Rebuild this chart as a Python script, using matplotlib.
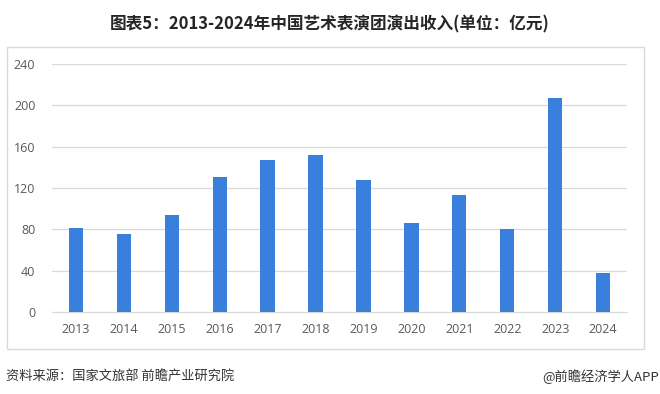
import matplotlib.pyplot as plt
from matplotlib.patches import Rectangle

plt.rcParams['font.family'] = ['Noto Sans CJK SC', 'DejaVu Sans']

# 中国艺术表演团演出收入 (亿元)
years = ['2013', '2014', '2015', '2016', '2017', '2018',
         '2019', '2020', '2021', '2022', '2023', '2024']
income = [81.5, 75.9, 94.2, 130.9, 147.5, 152.3,
          128.0, 86.5, 112.8, 80.8, 207.5, 38.2]
yticks = [0, 40, 80, 120, 160, 200, 240]

title = '图表5：2013-2024年中国艺术表演团演出收入(单位：亿元)'
source = '资料来源：国家文旅部 前瞻产业研究院'
credit = '@前瞻经济学人APP'

W, H = 660, 394
fig = plt.figure(figsize=(W / 100, H / 100), dpi=100)

# light grey frame around the plot
fig.patches.append(Rectangle((7 / W, 1 - 349 / H), 637 / W, 302 / H,
                             transform=fig.transFigure, fill=False,
                             edgecolor='#d9d9d9', linewidth=1))

ax = fig.add_axes([52 / W, 1 - 312 / H, 575 / W, 248 / H])
x = range(len(years))
ax.bar(x, income, width=0.3, color='#3a7fdc', zorder=3)

ax.set_xlim(-0.5, len(years) - 0.5)
ax.set_ylim(0, 240)
ax.set_yticks(yticks)
ax.set_xticks(list(x))
ax.set_xticklabels(years)
ax.grid(axis='y', color='#d9d9d9', linewidth=0.9, zorder=0)
for s in ['top', 'right', 'left']:
    ax.spines[s].set_visible(False)
ax.spines['bottom'].set_color('#d9d9d9')
ax.tick_params(length=0, labelsize=9, colors='#595959')
ax.tick_params(axis='y', pad=12)
ax.tick_params(axis='x', pad=8)
for lab in ax.get_xticklabels() + ax.get_yticklabels():
    lab.set_family(['Open Sans', 'DejaVu Sans'])

fig.text(0.5, 1 - 24 / H, title, ha='center', va='center',
         fontsize=12, fontweight='bold', color='#262626')
fig.text(6 / W, 1 - 377 / H, source, ha='left', va='center',
         fontsize=9.5, color='#333333')
fig.text(659 / W, 1 - 377 / H, credit, ha='right', va='center',
         fontsize=9.5, color='#333333')

fig.savefig('out.png', dpi=100)
